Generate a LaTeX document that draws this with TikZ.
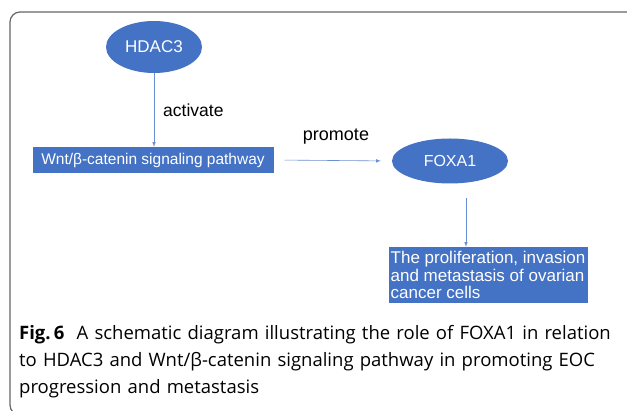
\documentclass[tikz,border=0pt]{standalone}
\usepackage{fontspec}
\setmainfont{Open Sans}
\newfontfamily\arialfont{Liberation Sans}
\usetikzlibrary{shapes.geometric}
\definecolor{boxblue}{HTML}{4472C4}
\definecolor{lineblue}{HTML}{6A8FD0}
\tikzset{
  oval/.style={ellipse,fill=boxblue,text=white,inner sep=0pt},
  bluebox/.style={rectangle,fill=boxblue,text=white,inner sep=0pt},
  link/.style={draw=lineblue,line width=0.6pt,-latex},
  tag/.style={font=\arialfont\fontsize{17.5}{19}\selectfont,inner sep=0pt}
}
\begin{document}
\begin{tikzpicture}[x=1pt,y=-1pt]
\useasboundingbox (0,0) rectangle (627,411);
\clip (0,0) rectangle (627,411);
\draw[black!60,line width=1.2pt,rounded corners=10pt] (10,12) rectangle (650,415);

\node[oval,minimum width=96,minimum height=52,font=\arialfont\fontsize{17}{19}\selectfont] (hdac) at (154,47) {HDAC3};
\node[bluebox,minimum width=241,minimum height=26,font=\arialfont\fontsize{15.5}{17}\selectfont] (wnt) at (153,160) {Wnt/β-catenin signaling pathway};
\node[oval,minimum width=116,minimum height=45,font=\arialfont\fontsize{16}{19}\selectfont] (foxa) at (450,161) {FOXA1};
\node[bluebox,minimum width=199,minimum height=56,align=left,
  font=\arialfont\fontsize{17}{17.5}\selectfont] (cells) at (488,275)
  {The proliferation, invasion\\and metastasis of ovarian\\cancer cells};

\draw[link] (hdac.south) -- (hdac.south |- wnt.north);
\draw[link,shorten <=11pt,shorten >=11pt] (wnt.east) -- (foxa.west);
\draw[link,shorten <=14pt] ([xshift=16pt]foxa.south) -- ([xshift=16pt]foxa.south |- cells.north);

\node[tag,anchor=west] (act) at (163,110) {activate};
\node[tag,font=\arialfont\fontsize{18}{19}\selectfont] (prom) at (336,137) {promote};

\node[anchor=north west,inner sep=0pt,text width=600,align=left,
  font=\fontsize{18.5}{27}\selectfont] (cap) at (19,325)
  {\textbf{Fig.\,6}\ \ A schematic diagram illustrating the role of FOXA1 in relation\\
   to HDAC3 and Wnt/β-catenin signaling pathway in promoting EOC\\
   progression and metastasis};
\end{tikzpicture}
\end{document}
